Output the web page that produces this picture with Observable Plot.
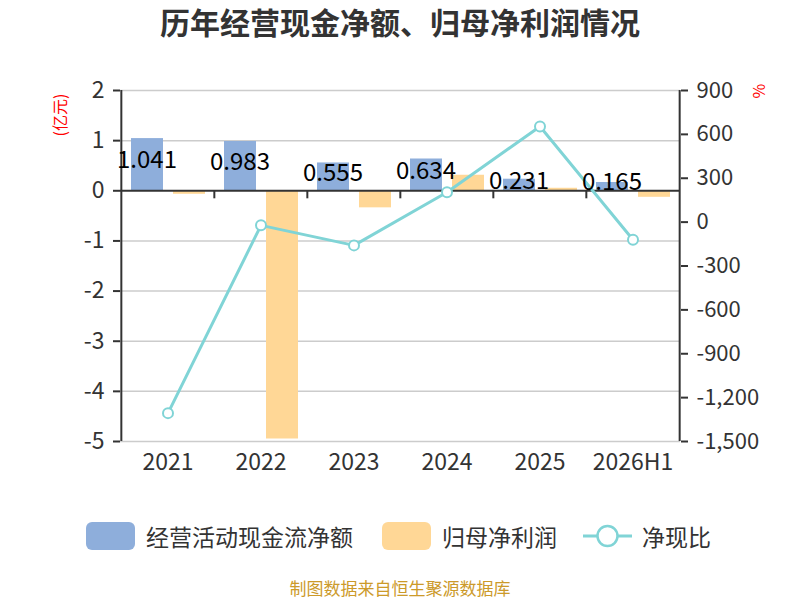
<!DOCTYPE html>
<html>
<head>
<meta charset="utf-8">
<script src="https://cdn.jsdelivr.net/npm/d3@7"></script>
<script src="https://cdn.jsdelivr.net/npm/@observablehq/plot@0.6"></script>
<style>
  html, body { margin: 0; padding: 0; background: #fff; }
  body { width: 800px; height: 600px; position: relative; overflow: hidden;
         font-family: "Noto Sans CJK SC", "Noto Sans", sans-serif; }
  #title { position: absolute; left: 0; top: 3px; width: 800px; text-align: center;
           font-size: 30px; font-weight: bold; color: #333; line-height: 36px; }
  #chart { position: absolute; left: 0; top: 50px; }
  .unit { position: absolute; color: red; font-size: 16px; line-height: 18px; white-space: nowrap;
          transform: translate(-50%, -50%) rotate(-90deg); }
  .lg { position: absolute; top: 521px; height: 30px; display: flex; align-items: center;
        font-size: 23px; color: #333; white-space: nowrap; }
  .sw { width: 49px; height: 28px; border-radius: 6px; margin-right: 11px; }
  #source { position: absolute; left: 0; top: 577px; width: 800px; text-align: center;
            font-size: 17px; color: #cc9a2a; line-height: 22px; }
</style>
</head>
<body>
<div id="title">历年经营现金净额、归母净利润情况</div>
<div id="chart"></div>
<div class="unit" id="unitL" style="left:59px; top:115px;">(亿元)</div>
<div class="unit" id="unitR" style="left:758px; top:91px;">%</div>
<div id="legend"></div>
<div id="source">制图数据来自恒生聚源数据库</div>
<script>
const years = ["2021", "2022", "2023", "2024", "2025", "2026H1"];
const cashFlow = [1.041, 0.983, 0.555, 0.634, 0.231, 0.165];
const netProfit = [-0.07, -4.95, -0.34, 0.31, 0.05, -0.13];
const cashRatio = [-1306, -22, -159, 204, 654, -120];
const leftTicks = [2, 1, 0, -1, -2, -3, -4, -5];
const rightTicks = [900, 600, 300, 0, -300, -600, -900, -1200, -1500];
const seriesNames = ["经营活动现金流净额", "归母净利润", "净现比"];
const colors = ["#8eaedb", "#ffd796", "#80d4d6"];

const data = years.map((y, i) => ({year: y, cash: cashFlow[i], profit: netProfit[i], ratio: cashRatio[i]}));

const L = [-5, 2], R = [-1500, 900];
const toLeft = v => L[0] + (v - R[0]) / (R[1] - R[0]) * (L[1] - L[0]);
const fromLeft = v => R[0] + (v - L[0]) / (L[1] - L[0]) * (R[1] - R[0]);

const W = 800, ML = 120, MR = 120;
const half = (W - ML - MR) / years.length / 2;

const chart = Plot.plot({
  width: W,
  height: 440,
  marginTop: 40,
  marginBottom: 49,
  marginLeft: ML,
  marginRight: MR,
  style: {fontFamily: '"Noto Sans CJK SC", "Noto Sans", sans-serif', background: "transparent"},
  x: {domain: years, padding: 0, axis: null},
  y: {domain: L, axis: null},
  marks: [
    Plot.ruleY(leftTicks.filter(t => t !== 0), {stroke: "#cccccc", strokeWidth: 1.5}),
    Plot.barY(data, {x: "year", y: "cash", fill: colors[0], insetLeft: 10, insetRight: 51}),
    Plot.barY(data, {x: "year", y: "profit", fill: colors[1], insetLeft: 52, insetRight: 9}),
    Plot.ruleY([0], {stroke: "#333", strokeWidth: 2}),
    Plot.ruleX(years.slice(1), {x: d => d, dx: -half, y1: 0, y2: -0.16, stroke: "#333", strokeWidth: 2}),
    Plot.ruleX([years[0]], {x: d => d, dx: -half, y1: L[0], y2: L[1], stroke: "#333", strokeWidth: 2}),
    Plot.ruleX([years[years.length - 1]], {x: d => d, dx: half, y1: L[0], y2: L[1], stroke: "#333", strokeWidth: 2}),
    Plot.axisX({fontSize: 23, tickSize: 0, tickPadding: 12, color: "#333", label: null}),
    Plot.axisY(leftTicks, {anchor: "left", tickSize: 7, tickPadding: 9, fontSize: 23, color: "#333",
      strokeWidth: 2, tickFormat: d => String(d), label: null}),
    Plot.axisY(rightTicks.map(toLeft), {anchor: "right", tickSize: 7, tickPadding: 9, fontSize: 22, color: "#333",
      strokeWidth: 2, tickFormat: d => Math.round(fromLeft(d)).toLocaleString("en-US"), label: null}),
    Plot.line(data, {x: "year", y: d => toLeft(d.ratio), stroke: colors[2], strokeWidth: 3}),
    Plot.dot(data, {x: "year", y: d => toLeft(d.ratio), r: 5, fill: "white", stroke: colors[2], strokeWidth: 2}),
    Plot.text(data, {x: "year", y: d => d.cash / 2, text: d => d.cash.toFixed(3), dx: -21, dy: -4,
      fontSize: 24, fill: "black"})
  ]
});
document.getElementById("chart").appendChild(chart);

// legend
const legend = document.getElementById("legend");
const lgX = [86, 382, 583];
seriesNames.forEach((name, i) => {
  const item = document.createElement("div");
  item.className = "lg";
  item.style.left = lgX[i] + "px";
  if (i < 2) {
    const sw = document.createElement("div");
    sw.className = "sw";
    sw.style.background = colors[i];
    item.appendChild(sw);
  } else {
    const ns = "http://www.w3.org/2000/svg";
    const s = document.createElementNS(ns, "svg");
    s.setAttribute("width", 49); s.setAttribute("height", 28);
    s.style.marginRight = "10px";
    const ln = document.createElementNS(ns, "line");
    ln.setAttribute("x1", 0); ln.setAttribute("x2", 49); ln.setAttribute("y1", 14); ln.setAttribute("y2", 14);
    ln.setAttribute("stroke", colors[2]); ln.setAttribute("stroke-width", 3);
    const c = document.createElementNS(ns, "circle");
    c.setAttribute("cx", 24.5); c.setAttribute("cy", 14); c.setAttribute("r", 10);
    c.setAttribute("fill", "white"); c.setAttribute("stroke", colors[2]); c.setAttribute("stroke-width", 2.5);
    s.appendChild(ln); s.appendChild(c);
    item.appendChild(s);
  }
  const t = document.createElement("span");
  t.textContent = name;
  item.appendChild(t);
  legend.appendChild(item);
});
</script>
</body>
</html>
